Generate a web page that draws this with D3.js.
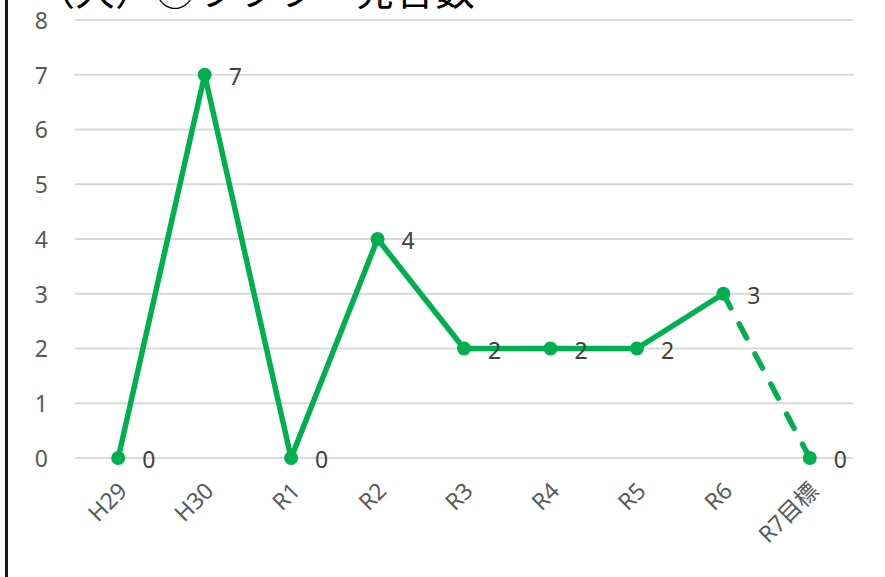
<!DOCTYPE html>
<html>
<head>
<meta charset="utf-8">
<script src="https://cdn.jsdelivr.net/npm/d3@7"></script>
<style>
  body { margin: 0; background: #fff; }
  svg { display: block; }
</style>
</head>
<body>
<svg id="chart"></svg>
<script>
// chart data
var categories = ["H29", "H30", "R1", "R2", "R3", "R4", "R5", "R6", "R7目標"];
var values = [0, 7, 0, 4, 2, 2, 2, 3, 0];
var yTicks = [0, 1, 2, 3, 4, 5, 6, 7, 8];
var titleText = "（大）②ラララー発言数";

var width = 885, height = 577;
var margin = {top: 20, right: 32, bottom: 119, left: 75};
var w = width - margin.left - margin.right;
var h = height - margin.top - margin.bottom;

var green = "#00b050";

var svg = d3.select("#chart")
    .attr("width", width)
    .attr("height", height);

// left border of the frame
svg.append("rect")
    .attr("x", 5)
    .attr("y", 0)
    .attr("width", 3)
    .attr("height", height)
    .style("fill", "#1a1a1a");

// title (cut off at the top in the original)
svg.append("text")
    .attr("x", 35)
    .attr("y", 5)
    .style("font-family", "'Noto Sans CJK JP', sans-serif")
    .style("font-size", "40px")
    .style("fill", "#000")
    .text(titleText);

var chart = svg.append("g")
    .attr("transform", "translate(" + margin.left + "," + margin.top + ")");

var x = d3.scaleBand()
    .domain(categories)
    .range([0, w]);

var y = d3.scaleLinear()
    .domain([0, 8])
    .range([h, 0]);

function cx(d, i) { return x(categories[i]) + x.bandwidth() / 2; }

//gridlines
chart.selectAll(".grid")
    .data(yTicks)
    .enter().append("line")
    .attr("class", "grid")
    .attr("x1", 0)
    .attr("x2", w)
    .attr("y1", function(d) { return y(d); })
    .attr("y2", function(d) { return y(d); })
    .style("stroke", "#d9d9d9")
    .style("stroke-width", 2);

//y axis labels
var yAxis = d3.axisLeft(y)
    .tickValues(yTicks)
    .tickSize(0)
    .tickPadding(27)
    .tickFormat(d3.format("d"));

var yG = chart.append("g").call(yAxis);
yG.select(".domain").remove();
yG.selectAll("text")
    .attr("dy", "0.36em")
    .style("font-family", "'Noto Sans', sans-serif")
    .style("font-size", "23px")
    .style("fill", "#595959");

//x axis labels, rotated
var xAxis = d3.axisBottom(x).tickSize(0).tickPadding(0);
var xG = chart.append("g")
    .attr("transform", "translate(0," + h + ")")
    .call(xAxis);
xG.select(".domain").remove();
xG.selectAll("text")
    .attr("y", 0)
    .attr("dy", 0)
    .attr("transform", "translate(4,28) rotate(-45)")
    .style("text-anchor", "end")
    .attr("dominant-baseline", "central")
    .style("font-family", "'Noto Sans', 'Noto Sans CJK JP', sans-serif")
    .style("font-size", "23px")
    .style("fill", "#595959");

//solid line for actual values, dashed for the target
var line = d3.line()
    .x(function(d) { return x(d.cat) + x.bandwidth() / 2; })
    .y(function(d) { return y(d.val); });

var pts = categories.map(function(c, i) { return {cat: c, val: values[i]}; });
var n = pts.length;

chart.append("path")
    .datum(pts.slice(0, n - 1))
    .attr("d", line)
    .style("fill", "none")
    .style("stroke", green)
    .style("stroke-width", 5.5)
    .style("stroke-linejoin", "round");

chart.append("path")
    .datum(pts.slice(n - 2))
    .attr("d", line)
    .style("fill", "none")
    .style("stroke", green)
    .style("stroke-width", 5.5)
    .style("stroke-linecap", "round")
    .style("stroke-dasharray", "16,18");

//markers
chart.selectAll(".dot")
    .data(values)
    .enter().append("circle")
    .attr("class", "dot")
    .attr("cx", cx)
    .attr("cy", function(d) { return y(d); })
    .attr("r", 7)
    .style("fill", green);

//data labels
chart.selectAll(".lbl")
    .data(values)
    .enter().append("text")
    .attr("class", "lbl")
    .attr("x", function(d, i) { return cx(d, i) + 24; })
    .attr("y", function(d) { return y(d) + 2; })
    .attr("dy", "0.36em")
    .style("font-family", "'Noto Sans', sans-serif")
    .style("font-size", "23px")
    .style("fill", "#404040")
    .text(function(d) { return d; });
</script>
</body>
</html>
